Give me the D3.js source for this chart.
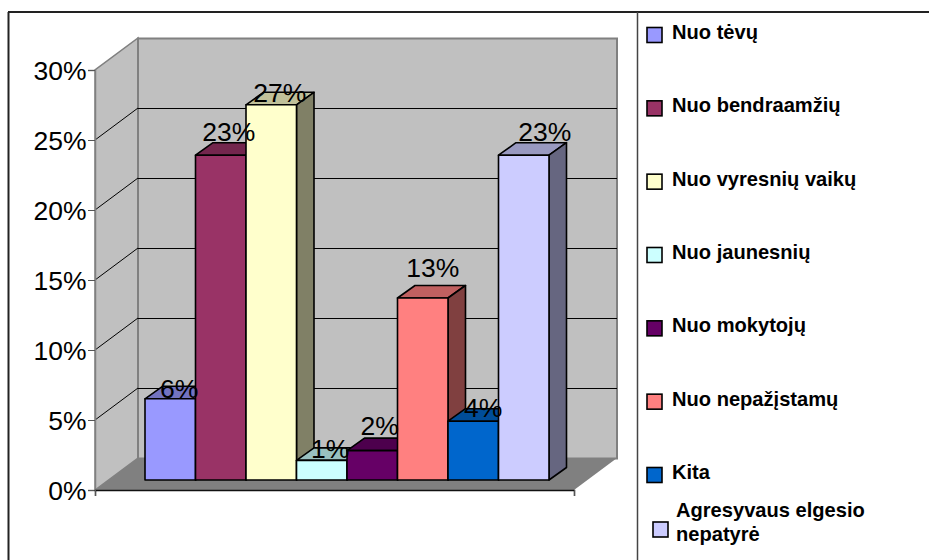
<!DOCTYPE html>
<html>
<head>
<meta charset="utf-8">
<script src="https://cdn.jsdelivr.net/npm/d3@7"></script>
<style>
  body { margin: 0; background: #fff; }
  text { font-family: "Liberation Sans", Arial, sans-serif; fill: #000; }
</style>
</head>
<body>
<svg id="chart" width="929" height="560"></svg>
<script>
var categories = ["Nuo tėvų", "Nuo bendraamžių", "Nuo vyresnių vaikų", "Nuo jaunesnių", "Nuo mokytojų", "Nuo nepažįstamų", "Kita", "Agresyvaus elgesio\nnepatyrė"];
var values = [5.8, 23.2, 26.8, 1.4, 2.1, 13, 4.2, 23.2];
var colors = ["#9999FF", "#993366", "#FFFFCC", "#CCFFFF", "#660066", "#FF8080", "#0066CC", "#CCCCFF"];
var tickValues = [0, 5, 10, 15, 20, 25, 30];

var svg = d3.select("#chart");

var y = d3.scaleLinear().domain([0, 30]).range([490, 70]);
var xFront = d3.scaleLinear().domain([0, 1]).range([95, 574]);
var x = d3.scaleBand().domain(categories).range([145, 549]);

var wallDx = 43, wallDy = 32;   // depth of the back wall
var barDx = 17.5, barDy = 12.5; // depth of one column
var barLift = 10;               // columns stand a bit behind the front edge

function pts(list) {
    return list.map(function (p) { return p.join(","); }).join(" ");
}

// walls and floor
var x0 = xFront(0), x1 = xFront(1), yBase = y(0), yTop = y(30);
svg.append("polygon")
    .attr("points", pts([[x0, yBase], [x0 + wallDx, yBase - wallDy], [x1 + wallDx, yBase - wallDy], [x1, yBase]]))
    .style("fill", "#808080");
svg.append("polygon")
    .attr("points", pts([[x0, yBase], [x0 + wallDx, yBase - wallDy], [x0 + wallDx, yTop - wallDy], [x0, yTop]]))
    .style("fill", "#C0C0C0")
    .style("stroke", "#808080")
    .style("stroke-width", 1.5);
svg.append("rect")
    .attr("x", x0 + wallDx)
    .attr("y", yTop - wallDy + 0.5)
    .attr("width", x1 - x0)
    .attr("height", yBase - yTop)
    .style("fill", "#C0C0C0")
    .style("stroke", "#808080")
    .style("stroke-width", 2);

// gridlines, back wall plus the slanted part on the side wall
var grid = tickValues.filter(function (d) { return d > 0 && d < 30; });
svg.selectAll(".gridBack")
    .data(grid)
    .enter()
    .append("line")
    .attr("class", "gridBack")
    .attr("x1", x0 + wallDx)
    .attr("x2", x1 + wallDx)
    .attr("y1", function (d) { return Math.round(y(d) - wallDy) + 0.5; })
    .attr("y2", function (d) { return Math.round(y(d) - wallDy) + 0.5; })
    .style("stroke", "#000")
    .style("stroke-width", 1);
svg.selectAll(".gridSide")
    .data(grid)
    .enter()
    .append("line")
    .attr("class", "gridSide")
    .attr("x1", x0)
    .attr("x2", x0 + wallDx)
    .attr("y1", function (d) { return y(d); })
    .attr("y2", function (d) { return y(d) - wallDy; })
    .style("stroke", "#000")
    .style("stroke-width", 1);

// axes
var yAxis = svg.append("g")
    .attr("transform", "translate(" + x0 + ",0)")
    .call(d3.axisLeft(y).tickValues(tickValues).tickSize(7).tickPadding(1.5)
        .tickFormat(function (d) { return d + "%"; }));
yAxis.selectAll("text")
    .attr("dy", "0.37em")
    .style("font-family", '"Liberation Sans", Arial, sans-serif')
    .style("font-size", "26.5px");
yAxis.selectAll("line").style("stroke", "#555");
yAxis.select(".domain").style("stroke", "#808080").style("stroke-width", 1.5);

var xAxis = svg.append("g")
    .attr("transform", "translate(0," + yBase + ")")
    .call(d3.axisBottom(xFront).tickValues([0, 1]).tickSize(6).tickFormat(""));
xAxis.selectAll("line").style("stroke", "#555");
xAxis.select(".domain").style("stroke", "#111").style("stroke-width", 1.5);

// columns, left to right so each one covers the side of the one before
var bars = svg.selectAll(".bar")
    .data(values)
    .enter()
    .append("g")
    .attr("class", "bar");

function barLeft(d, i) { return x(categories[i]); }
function barTop(d) { return y(d) - barLift; }

bars.append("polygon")
    .attr("points", function (d, i) {
        var l = barLeft(d, i), r = l + x.bandwidth(), t = barTop(d);
        return pts([[l, t], [l + barDx, t - barDy], [r + barDx, t - barDy], [r, t]]);
    })
    .style("fill", function (d, i) { return d3.rgb(colors[i]).darker(0.8); });

bars.append("polygon")
    .attr("points", function (d, i) {
        var r = barLeft(d, i) + x.bandwidth(), t = barTop(d), b = y(0) - barLift;
        return pts([[r, t], [r + barDx, t - barDy], [r + barDx, b - barDy], [r, b]]);
    })
    .style("fill", function (d, i) {
        var c = d3.rgb(colors[i]);
        return d3.rgb(c.r / 2, c.g / 2, c.b / 2);
    });

bars.append("rect")
    .attr("x", barLeft)
    .attr("y", barTop)
    .attr("width", x.bandwidth())
    .attr("height", function (d) { return y(0) - y(d); })
    .style("fill", function (d, i) { return colors[i]; });

bars.selectAll("polygon, rect")
    .style("stroke", "#000")
    .style("stroke-width", 1.6)
    .style("stroke-linejoin", "round");

// data labels were dragged around by hand in the original
var labelDx = [9, 8, 8.5, 8.5, 7.5, 10, 10, 21];
var labelDy = [-1, -14, -2.5, -2, -16, -21, -4, -14];

svg.selectAll(".valueLabel")
    .data(values)
    .enter()
    .append("text")
    .attr("class", "valueLabel")
    .attr("x", function (d, i) { return barLeft(d, i) + x.bandwidth() / 2 + labelDx[i]; })
    .attr("y", function (d, i) { return barTop(d) + labelDy[i]; })
    .attr("text-anchor", "middle")
    .style("font-size", "26.5px")
    .text(function (d) { return d3.format(".0f")(d) + "%"; });

// frame
svg.append("line").attr("x1", 8).attr("x2", 929).attr("y1", 12).attr("y2", 12)
    .style("stroke", "#222").style("stroke-width", 2);
svg.append("line").attr("x1", 8.5).attr("x2", 8.5).attr("y1", 12).attr("y2", 560)
    .style("stroke", "#222").style("stroke-width", 2);
svg.append("line").attr("x1", 637.5).attr("x2", 637.5).attr("y1", 12).attr("y2", 560)
    .style("stroke", "#444").style("stroke-width", 1.5);

// legend
var legendY = d3.scalePoint().domain(categories.slice(0, 7)).range([27.5, 467.5]);

var legend = svg.selectAll(".legendItem")
    .data(categories)
    .enter()
    .append("g")
    .attr("class", "legendItem")
    .attr("transform", function (d, i) {
        return i < 7 ? "translate(647," + legendY(d) + ")" : "translate(653,522)";
    });

legend.append("rect")
    .attr("width", 15)
    .attr("height", 15)
    .style("fill", function (d, i) { return colors[i]; })
    .style("stroke", "#000")
    .style("stroke-width", 1.6);

legend.append("text")
    .style("font-size", "20.1px")
    .style("font-weight", "bold")
    .each(function (d, i) {
        var lines = d.split("\n");
        var t = d3.select(this);
        lines.forEach(function (line, k) {
            t.append("tspan")
                .attr("x", i < 7 ? 25 : 23)
                .attr("y", i < 7 ? 11.5 : -5 + k * 24)
                .text(line);
        });
    });
</script>
</body>
</html>
